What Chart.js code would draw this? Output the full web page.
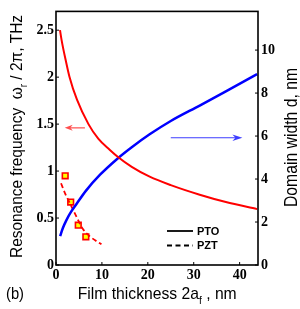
<!DOCTYPE html>
<html><head><meta charset="utf-8">
<script src="https://cdn.jsdelivr.net/npm/chart.js@4"></script>
<style>html,body{margin:0;padding:0;background:#fff}#w{width:300px;height:309px;position:relative}</style>
</head><body><div id="w"><canvas id="c"></canvas></div>
<script>
// ---- data ----
const ptoThickness = [0.87, 1.2, 1.63, 2.07, 2.93, 4.57, 7.07, 9.2, 11.74, 13.5, 16.5, 20.4, 25.0, 31.3, 37.0, 43.8];
const ptoFrequency = [2.50, 2.40, 2.29, 2.19, 2.005, 1.76, 1.50, 1.345, 1.225, 1.15, 1.045, 0.94, 0.85, 0.748, 0.67, 0.595];
const domainThickness = [0.9, 1.5, 2.3, 3.3, 4.5, 6.5, 9.6, 13.5, 16.5, 20.4, 25.0, 31.3, 37.0, 43.8];
const domainWidth = [1.34, 1.72, 2.10, 2.48, 2.85, 3.45, 4.20, 4.97, 5.48, 6.08, 6.70, 7.42, 8.08, 8.88];
const pztThickness = [1.1, 2.0, 3.4, 4.6, 5.9, 7.5, 9.9];
const pztFrequency = [0.87, 0.76, 0.62, 0.50, 0.38, 0.30, 0.22];
const pztPointThickness = [2.0, 3.2, 4.85, 6.5];
const pztPointFrequency = [0.95, 0.67, 0.424, 0.30];
const xTicks = [0, 10, 20, 30, 40];
const yTicks = [0, 0.5, 1, 1.5, 2, 2.5];
const y1Ticks = [0, 2, 4, 6, 8, 10];
const redArrow = {from: [6.3, 1.46], to: [1.9, 1.46]};
const blueArrow = {from: [25.0, 5.92], to: [40.6, 5.92]};
const legendItems = [{label: 'PTO', dash: []}, {label: 'PZT', dash: [5, 3.5]}];

const pts = (xs, ys) => xs.map((x, i) => ({x, y: ys[i]}));
const tickFont = {family: "'Liberation Serif', 'Times New Roman', serif", size: 14, weight: 'bold'};

function drawRich(ctx, parts, size, targetLen) {
  const base = size + "px 'Liberation Sans', Arial, sans-serif";
  const sub = Math.round(size * 0.62) + "px 'Liberation Sans', Arial, sans-serif";
  let total = 0;
  parts.forEach(p => { ctx.font = p.sub ? sub : base; p.w = ctx.measureText(p.t).width; total += p.w; });
  const s = targetLen / total;
  ctx.scale(s, 1);
  let x = 0;
  parts.forEach(p => {
    ctx.font = p.sub ? sub : base;
    ctx.fillText(p.t, x, p.sub ? size * 0.3 : 0);
    x += p.w;
  });
}

const deco = {
  id: 'deco',
  afterDraw(chart) {
    const ctx = chart.ctx, a = chart.chartArea;
    const sx = chart.scales.x, sy = chart.scales.y, sy1 = chart.scales.y1;
    ctx.save();
    ctx.strokeStyle = '#000'; ctx.lineWidth = 1.6;
    ctx.strokeRect(a.left, a.top, a.right - a.left, a.bottom - a.top);
    ctx.lineWidth = 1;
    ctx.beginPath();
    xTicks.forEach(v => { const p = sx.getPixelForValue(v); ctx.moveTo(p, a.bottom); ctx.lineTo(p, a.bottom - 3); });
    yTicks.forEach(v => { const p = sy.getPixelForValue(v); ctx.moveTo(a.left, p); ctx.lineTo(a.left + 3, p); });
    y1Ticks.forEach(v => { const p = sy1.getPixelForValue(v); ctx.moveTo(a.right, p); ctx.lineTo(a.right - 3, p); });
    ctx.stroke();

    function arrow(ar, ys, color, head, hw) {
      const x0 = sx.getPixelForValue(ar.from[0]), y0 = ys.getPixelForValue(ar.from[1]);
      const x1 = sx.getPixelForValue(ar.to[0]), y1 = ys.getPixelForValue(ar.to[1]);
      const dir = Math.sign(x1 - x0);
      ctx.strokeStyle = color; ctx.fillStyle = color; ctx.lineWidth = 1.2;
      ctx.beginPath(); ctx.moveTo(x0, y0); ctx.lineTo(x1 - dir * head * 0.6, y1); ctx.stroke();
      ctx.beginPath(); ctx.moveTo(x1, y1); ctx.lineTo(x1 - dir * head, y1 - hw); ctx.lineTo(x1 - dir * head * 0.7, y1); ctx.lineTo(x1 - dir * head, y1 + hw); ctx.closePath(); ctx.fill();
    }
    arrow(redArrow, sy, '#ff4d4d', 8, 3);
    arrow(blueArrow, sy1, '#3c3cff', 10, 3.2);

    ctx.fillStyle = '#000'; ctx.strokeStyle = '#000';
    legendItems.forEach((it, i) => {
      const y = 231 + i * 14.5;
      ctx.lineWidth = 1.8; ctx.setLineDash(it.dash);
      ctx.beginPath(); ctx.moveTo(167, y); ctx.lineTo(193, y); ctx.stroke();
      ctx.setLineDash([]);
      ctx.font = "bold 11px 'Liberation Sans', Arial, sans-serif";
      ctx.textBaseline = 'middle';
      ctx.fillText(it.label, 197, y + 0.5);
    });
    ctx.textBaseline = 'alphabetic';

    ctx.save(); ctx.translate(22, 258); ctx.rotate(-Math.PI / 2);
    drawRich(ctx, [{t: 'Resonance frequency  ω'}, {t: 'r', sub: true}, {t: ' / 2π, THz'}], 17, 243);
    ctx.restore();
    ctx.save(); ctx.translate(297, 207); ctx.rotate(-Math.PI / 2);
    drawRich(ctx, [{t: 'Domain width d, nm'}], 18, 139);
    ctx.restore();
    ctx.save(); ctx.translate(77.7, 299);
    drawRich(ctx, [{t: 'Film thickness 2a'}, {t: 'f', sub: true}, {t: ' , nm'}], 17, 159);
    ctx.restore();
    ctx.save(); ctx.translate(6, 299);
    drawRich(ctx, [{t: '(b)'}], 17, 18);
    ctx.restore();
    ctx.restore();
  }
};

const axisGrid = {display: false, drawTicks: false};
new Chart(document.getElementById('c'), {
  type: 'line',
  data: {
    datasets: [
      {data: pts(ptoThickness, ptoFrequency), yAxisID: 'y', borderColor: '#ff0000', borderWidth: 2, pointRadius: 0, cubicInterpolationMode: 'monotone', fill: false},
      {data: pts(domainThickness, domainWidth), yAxisID: 'y1', borderColor: '#0000ff', borderWidth: 2.5, pointRadius: 0, cubicInterpolationMode: 'monotone', fill: false},
      {data: pts(pztThickness, pztFrequency), yAxisID: 'y', borderColor: '#ff0000', borderWidth: 1.8, borderDash: [5, 3], pointRadius: 0, cubicInterpolationMode: 'monotone', fill: false},
      {data: pts(pztPointThickness, pztPointFrequency), yAxisID: 'y', showLine: false, pointStyle: 'rect', pointRadius: 4, pointBorderWidth: 1.6, pointBorderColor: '#ff0000', pointBackgroundColor: '#ffff00'}
    ]
  },
  options: {
    responsive: true, maintainAspectRatio: false, animation: false, devicePixelRatio: 1,
    layout: {padding: {top: 11, left: 0, right: 0, bottom: 0}},
    plugins: {legend: {display: false}, tooltip: {enabled: false}},
    scales: {
      x: {type: 'linear', min: 0, max: 44, grid: axisGrid, border: {display: false},
          afterBuildTicks: s => { s.ticks = xTicks.map(v => ({value: v})); },
          afterFit: s => { s.height = 44; },
          ticks: {font: tickFont, color: '#000', padding: 2, maxRotation: 0, callback: v => String(v)}},
      y: {type: 'linear', position: 'left', min: 0, max: 2.7, grid: axisGrid, border: {display: false},
          afterBuildTicks: s => { s.ticks = yTicks.map(v => ({value: v})); },
          afterFit: s => { s.width = 56; },
          ticks: {font: tickFont, color: '#000', padding: 2, callback: v => String(v)}},
      y1: {type: 'linear', position: 'right', min: 0, max: 11.8, grid: axisGrid, border: {display: false},
          afterBuildTicks: s => { s.ticks = y1Ticks.map(v => ({value: v})); },
          afterFit: s => { s.width = 42; },
          ticks: {font: tickFont, color: '#000', padding: 3, callback: v => String(v)}}
    }
  },
  plugins: [deco]
});
</script></body></html>
